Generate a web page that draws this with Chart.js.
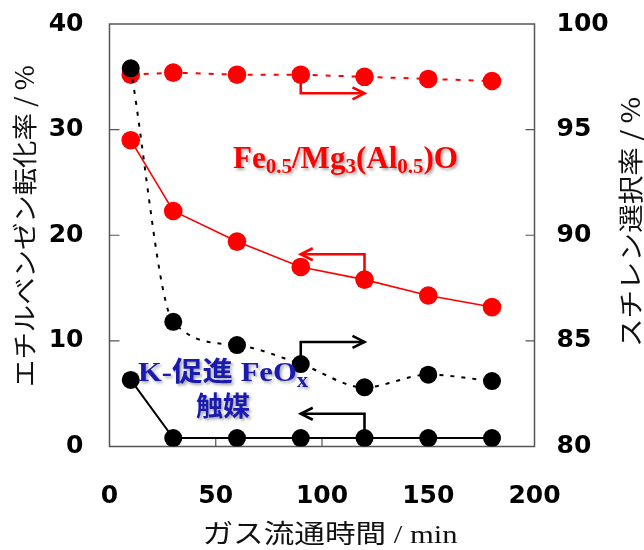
<!DOCTYPE html>
<html><head><meta charset="utf-8">
<script src="https://cdn.jsdelivr.net/npm/chart.js@4.4.1/dist/chart.umd.min.js"></script>
<style>html,body{margin:0;padding:0;background:#fff}#wrap{width:644px;height:550px;position:relative}</style>
</head><body><div id="wrap"><canvas id="c" width="644" height="550"></canvas></div>
<script>
// ---- data ----
const times = [10, 30, 60, 90, 120, 150, 180];
const feConversion = [29.0, 22.3, 19.4, 17.0, 15.8, 14.3, 13.2];
const feSelectivity = [97.6, 97.7, 97.6, 97.6, 97.5, 97.4, 97.3];
const kConversion = [6.3, 0.8, 0.8, 0.8, 0.8, 0.8, 0.8];
const kSelectivity = [97.9, 85.9, 84.8, 83.9, 82.8, 83.4, 83.1];
const xRange = [0, 200], xStep = 50;
const leftRange = [0, 40], leftStep = 10;
const rightRange = [80, 100], rightStep = 5;
const leftTitle = 'エチルベンゼン転化率 / %';
const rightTitle = 'スチレン選択率 / %';
const bottomTitle = 'ガス流通時間 / min';
// indicator arrows (data units): [x, value] on the given axis
const arrows = [
  {color: '#f00', axis: 'y2', pts: [[90, 97.6], [90, 96.72], [120, 96.72]]},
  {color: '#f00', axis: 'y',  pts: [[120, 15.8], [120, 18.2], [90, 18.2]]},
  {color: '#000', axis: 'y2', pts: [[90, 83.9], [90, 84.95], [120, 84.95]]},
  {color: '#000', axis: 'y',  pts: [[120, 0.8], [120, 3.1], [90, 3.1]]}
];

const RED = '#f00', BLACK = '#000', BLUE = '#1a1ab0';
const pts = (ys) => times.map((t, i) => ({x: t, y: ys[i]}));

function drawRich(ctx, segs, left, baseline, targetW, font, subFont, subDy, color) {
  ctx.save();
  let total = 0;
  segs.forEach(s => { ctx.font = s.sub ? subFont : font; total += ctx.measureText(s.t).width; });
  const sx = targetW ? targetW / total : 1;
  ctx.translate(left, baseline);
  ctx.scale(sx, 1);
  ctx.fillStyle = color;
  ctx.shadowColor = 'rgba(0,0,0,0.35)';
  ctx.shadowBlur = 3; ctx.shadowOffsetX = 2; ctx.shadowOffsetY = 2;
  ctx.textBaseline = 'alphabetic'; ctx.textAlign = 'left';
  let x = 0;
  segs.forEach(s => {
    ctx.font = s.sub ? subFont : font;
    ctx.fillText(s.t, x, s.sub ? subDy : 0);
    x += ctx.measureText(s.t).width;
  });
  ctx.restore();
}

const decor = {
  id: 'decor',
  beforeDatasetsDraw(chart) {
    const {ctx, chartArea: a, scales} = chart;
    ctx.save();
    // inner tick marks
    ctx.strokeStyle = '#555'; ctx.lineWidth = 1.2;
    ctx.beginPath();
    for (let v = leftRange[0] + leftStep; v < leftRange[1]; v += leftStep) {
      const y = scales.y.getPixelForValue(v);
      ctx.moveTo(a.left, y); ctx.lineTo(a.left + 10, y);
    }
    for (let v = rightRange[0] + rightStep; v < rightRange[1]; v += rightStep) {
      const y = scales.y2.getPixelForValue(v);
      ctx.moveTo(a.right, y); ctx.lineTo(a.right - 9, y);
    }
    for (let v = xRange[0] + xStep; v < xRange[1]; v += xStep) {
      const x = scales.x.getPixelForValue(v);
      ctx.moveTo(x, a.bottom); ctx.lineTo(x, a.bottom - 8);
    }
    ctx.stroke();
    // frame
    ctx.strokeStyle = '#555'; ctx.lineWidth = 1.5;
    ctx.strokeRect(a.left, a.top, a.right - a.left, a.bottom - a.top);
    // arrows
    arrows.forEach(ar => {
      const P = ar.pts.map(p => [scales.x.getPixelForValue(p[0]), scales[ar.axis].getPixelForValue(p[1])]);
      ctx.strokeStyle = ar.color; ctx.lineWidth = 2.6; ctx.lineJoin = 'miter'; ctx.lineCap = 'butt';
      ctx.beginPath();
      ctx.moveTo(P[0][0], P[0][1]);
      for (let i = 1; i < P.length; i++) ctx.lineTo(P[i][0], P[i][1]);
      ctx.stroke();
      const [tx, ty] = P[P.length - 1], [px, py] = P[P.length - 2];
      const ang = Math.atan2(ty - py, tx - px);
      const L = 12, W = 6;
      ctx.beginPath();
      ctx.moveTo(tx - L * Math.cos(ang) + W * Math.sin(ang), ty - L * Math.sin(ang) - W * Math.cos(ang));
      ctx.lineTo(tx, ty);
      ctx.lineTo(tx - L * Math.cos(ang) - W * Math.sin(ang), ty - L * Math.sin(ang) + W * Math.cos(ang));
      ctx.stroke();
    });
    ctx.restore();
  },
  afterDatasetsDraw(chart) {
    const {ctx} = chart;
    // annotation texts
    drawRich(ctx, [{t: 'Fe'}, {t: '0.5', sub: 1}, {t: '/Mg'}, {t: '3', sub: 1}, {t: '(Al'}, {t: '0.5', sub: 1}, {t: ')O'}],
      233, 168, 225, 'bold 31px "Liberation Serif"', 'bold 21px "Liberation Serif"', 5, RED);
    drawRich(ctx, [{t: 'K-'}, {t: '促進 '}, {t: 'FeO'}, {t: 'x', sub: 1}],
      138, 381, 170, 'bold 27px "Liberation Serif", "Noto Sans CJK JP"', 'bold 20px "Liberation Serif"', 6, BLUE);
    ctx.save();
    ctx.font = 'bold 27px "Noto Sans CJK JP"';
    const w2 = ctx.measureText('触媒').width;
    ctx.restore();
    drawRich(ctx, [{t: '触媒'}], 223 - w2 / 2, 416, 0, 'bold 27px "Noto Sans CJK JP"', '', 0, BLUE);
    // axis titles
    ctx.save();
    ctx.fillStyle = '#111';
    ctx.textAlign = 'center'; ctx.textBaseline = 'middle';
    ctx.font = '25px "Noto Sans CJK JP", "Liberation Sans"';
    ctx.save(); ctx.translate(24, 226); ctx.rotate(-Math.PI / 2);
    let w = ctx.measureText(leftTitle).width; ctx.scale(322 / w, 1); ctx.fillText(leftTitle, 0, 0); ctx.restore();
    ctx.save(); ctx.translate(630, 222); ctx.rotate(-Math.PI / 2);
    w = ctx.measureText(rightTitle).width; ctx.scale(250 / w, 1); ctx.fillText(rightTitle, 0, 0); ctx.restore();
    ctx.font = '26px "Liberation Serif", "Noto Sans CJK JP"';
    ctx.save(); ctx.translate(330, 536);
    w = ctx.measureText(bottomTitle).width; ctx.scale(255 / w, 1); ctx.fillText(bottomTitle, 0, 0); ctx.restore();
    ctx.restore();
  }
};

const tickFont = {family: '"DejaVu Sans"', size: 25, weight: 'bold'};
function fixVertical(w) {
  return function (s) { s.width = w; s.paddingTop = 0; s.paddingBottom = 0; };
}
new Chart(document.getElementById('c'), {
  type: 'line',
  data: {
    datasets: [
      {label: 'K sel', data: pts(kSelectivity), yAxisID: 'y2', borderColor: BLACK, backgroundColor: BLACK,
       borderWidth: 2, borderDash: [4, 7], cubicInterpolationMode: 'monotone', pointRadius: 9, pointBorderWidth: 0},
      {label: 'K conv', data: pts(kConversion), yAxisID: 'y', borderColor: BLACK, backgroundColor: BLACK,
       borderWidth: 2, pointRadius: 9, pointBorderWidth: 0},
      {label: 'Fe sel', data: pts(feSelectivity), yAxisID: 'y2', borderColor: RED, backgroundColor: RED,
       borderWidth: 2, borderDash: [5, 8], pointRadius: 9.3, pointBorderWidth: 0},
      {label: 'Fe conv', data: pts(feConversion), yAxisID: 'y', borderColor: RED, backgroundColor: RED,
       borderWidth: 1.6, pointRadius: 9.3, pointBorderWidth: 0}
    ]
  },
  options: {
    responsive: false, animation: false, events: [],
    layout: {padding: {top: 24, left: 0, right: 0, bottom: 0}},
    plugins: {legend: {display: false}, tooltip: {enabled: false}},
    scales: {
      x: {type: 'linear', min: xRange[0], max: xRange[1],
          ticks: {stepSize: xStep, font: tickFont, color: '#000', padding: 35, maxRotation: 0},
          grid: {display: false, drawTicks: false}, border: {display: false},
          afterFit(s) { s.height = 103.5; s.paddingLeft = 0; s.paddingRight = 0; }},
      y: {type: 'linear', position: 'left', min: leftRange[0], max: leftRange[1],
          ticks: {stepSize: leftStep, font: tickFont, color: '#000', padding: 26},
          grid: {display: false, drawTicks: false}, border: {display: false},
          afterFit: fixVertical(109.5)},
      y2: {type: 'linear', position: 'right', min: rightRange[0], max: rightRange[1],
          ticks: {stepSize: rightStep, font: tickFont, color: '#000', padding: 22},
          grid: {display: false, drawTicks: false}, border: {display: false},
          afterFit: fixVertical(109.5)}
    }
  },
  plugins: [decor]
});
</script></body></html>
